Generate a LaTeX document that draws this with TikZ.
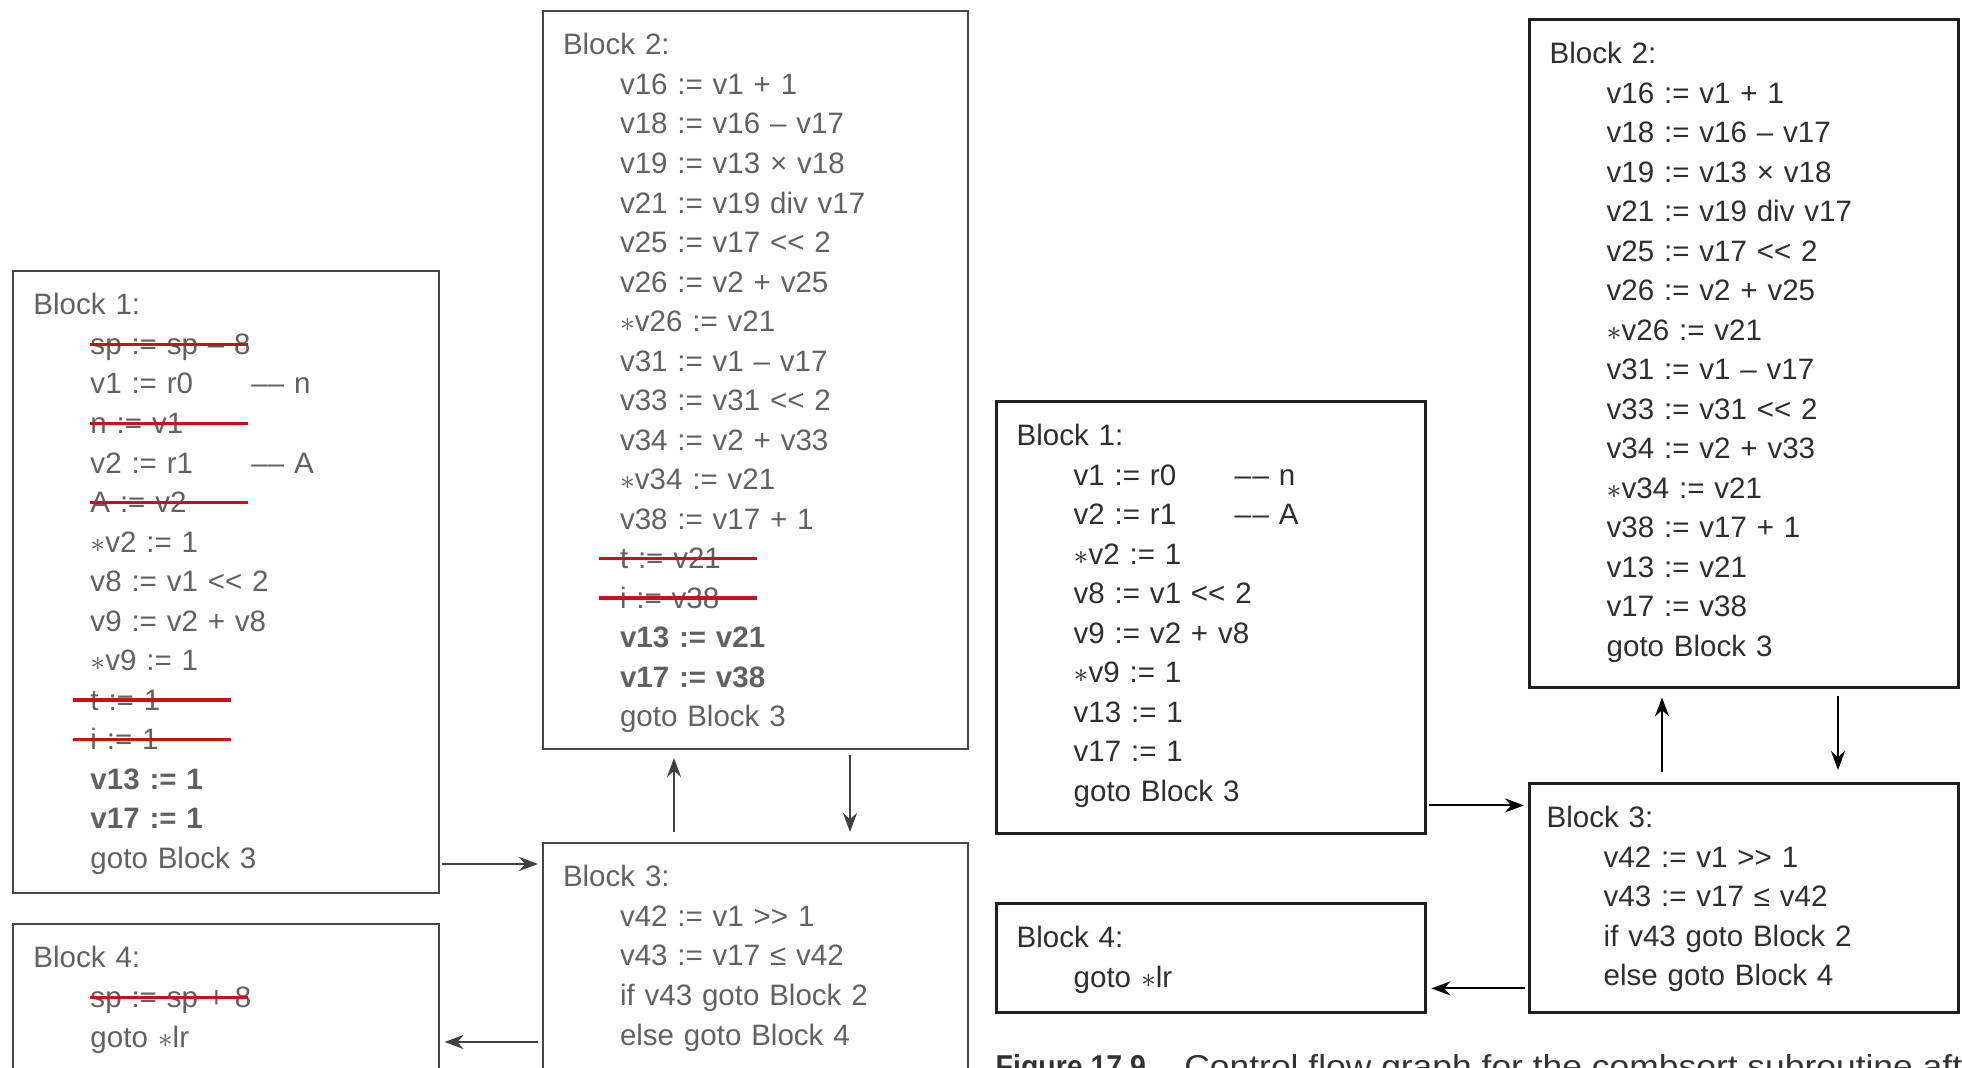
\documentclass[tikz,border=0pt]{standalone}
\usepackage{graphicx}
\usepackage{fontspec}
\setmainfont{Liberation Sans}
\usetikzlibrary{positioning,arrows.meta,calc}

\definecolor{strikered}{RGB}{200,16,24}
\newcommand{\codein}{\hspace*{5.7mm}}
\newcommand{\shl}{<\kern0pt<}
\newcommand{\shr}{>\kern0pt>}
\newcommand{\ptr}{$\ast$}
\newcommand{\withnote}[2]{\makebox[16.1mm][l]{#1}#2}
% red bar through a deleted instruction, optional shift to the left
\newcommand{\struckline}[2][0mm]{\makebox[0pt][l]{#2}\hspace*{-#1}\textcolor{strikered}{\rule[0.28em]{15.8mm}{0.35mm}}}

\begin{document}
\begin{tikzpicture}[font=\fontsize{8.4}{11.24}\selectfont]
  \tikzstyle{block}=[draw,anchor=north west,align=left,inner xsep=2mm,inner ysep=0pt,text height=4.4mm]
  \tikzstyle{scan}=[block,draw=black!72,line width=0.2mm,text=black!62,text width=3.85cm]
  \tikzstyle{crisp}=[block,draw=black!88,line width=0.34mm,text=black!82,text width=3.89cm]
  \tikzstyle{flow}=[-{Stealth[length=1.9mm,width=1.4mm]},line width=0.22mm]
  \tikzstyle{caption}=[inner sep=0pt,text=black!80]
  \useasboundingbox (0,0) rectangle (19.62,10.68);
  \clip (0,0) rectangle (19.62,10.68);

  % left: blocks with the copies still marked
  \node[scan,text depth=5.78cm] (L1) at (0.125,7.98) {Block 1:\\
    \codein\struckline{sp := sp – 8}\\
    \codein\withnote{v1 := r0}{–– n}\\
    \codein\struckline{n := v1}\\
    \codein\withnote{v2 := r1}{–– A}\\
    \codein\struckline{A := v2}\\
    \codein\ptr v2 := 1\\
    \codein v8 := v1 \shl\ 2\\
    \codein v9 := v2 + v8\\
    \codein\ptr v9 := 1\\
    \codein\struckline[1.75mm]{t := 1}\\
    \codein\struckline[1.75mm]{i := 1}\\
    \codein\textbf{v13 := 1}\\
    \codein\textbf{v17 := 1}\\
    \codein goto Block 3};
  \node[scan,text depth=6.94cm] (L2) at (5.42,10.58) {Block 2:\\
    \codein v16 := v1 + 1\\
    \codein v18 := v16 – v17\\
    \codein v19 := v13 × v18\\
    \codein v21 := v19 div v17\\
    \codein v25 := v17 \shl\ 2\\
    \codein v26 := v2 + v25\\
    \codein\ptr v26 := v21\\
    \codein v31 := v1 – v17\\
    \codein v33 := v31 \shl\ 2\\
    \codein v34 := v2 + v33\\
    \codein\ptr v34 := v21\\
    \codein v38 := v17 + 1\\
    \codein\struckline[2.1mm]{t := v21}\\
    \codein\struckline[2.1mm]{i := v38}\\
    \codein\textbf{v13 := v21}\\
    \codein\textbf{v17 := v38}\\
    \codein goto Block 3};
  \node[scan,text depth=2.6cm] (L3) at (5.42,2.26) {Block 3:\\
    \codein v42 := v1 \shr\ 1\\
    \codein v43 := v17 ≤ v42\\
    \codein if v43 goto Block 2\\
    \codein else goto Block 4};
  \node[scan,text depth=1.8cm] (L4) at (0.125,1.45) {Block 4:\\
    \codein\struckline{sp := sp + 8}\\
    \codein goto \ptr lr};

  \draw[flow,draw=black!75,shorten <=0.2mm,shorten >=0.4mm] ($(L1.south east)+(0,3mm)$) -- ($(L1.south east -| L3.west)+(0,3mm)$);
  \draw[flow,draw=black!75,shorten <=0.4mm,shorten >=0.5mm] ($(L4.north east -| L3.west)+(0,-11.9mm)$) -- ($(L4.north east)+(0,-11.9mm)$);
  \draw[flow,draw=black!75,shorten <=1mm,shorten >=0.8mm] ($(L3.north west)+(13.2mm,0)$) -- ($(L2.south west)+(13.2mm,0)$);
  \draw[flow,draw=black!75,shorten <=0.5mm,shorten >=1mm] ($(L2.south west)+(30.8mm,0)$) -- ($(L3.north west)+(30.8mm,0)$);

  % right: the same graph after the copies are gone
  \node[crisp,text depth=3.88cm] (R1) at (9.95,6.68) {Block 1:\\
    \codein\withnote{v1 := r0}{–\kern0.4pt– n}\\
    \codein\withnote{v2 := r1}{–\kern0.4pt– A}\\
    \codein\ptr v2 := 1\\
    \codein v8 := v1 \shl\ 2\\
    \codein v9 := v2 + v8\\
    \codein\ptr v9 := 1\\
    \codein v13 := 1\\
    \codein v17 := 1\\
    \codein goto Block 3};
  \node[crisp,text depth=6.24cm] (R2) at (15.28,10.50) {Block 2:\\
    \codein v16 := v1 + 1\\
    \codein v18 := v16 – v17\\
    \codein v19 := v13 × v18\\
    \codein v21 := v19 div v17\\
    \codein v25 := v17 \shl\ 2\\
    \codein v26 := v2 + v25\\
    \codein\ptr v26 := v21\\
    \codein v31 := v1 – v17\\
    \codein v33 := v31 \shl\ 2\\
    \codein v34 := v2 + v33\\
    \codein\ptr v34 := v21\\
    \codein v38 := v17 + 1\\
    \codein v13 := v21\\
    \codein v17 := v38\\
    \codein goto Block 3};
  \node[crisp,text depth=1.85cm,inner xsep=1.7mm,text width=3.95cm] (R3) at (15.28,2.86) {Block 3:\\
    \codein v42 := v1 \shr\ 1\\
    \codein v43 := v17 ≤ v42\\
    \codein if v43 goto Block 2\\
    \codein else goto Block 4};
  \node[crisp,text depth=0.65cm] (R4) at (9.95,1.66) {Block 4:\\
    \codein goto \ptr lr};

  \draw[flow,shorten <=0.2mm,shorten >=0.4mm] ($(R1.south east)+(0,3mm)$) -- ($(R1.south east -| R3.west)+(0,3mm)$);
  \draw[flow,shorten <=0.3mm,shorten >=0.4mm] ($(R4.south east -| R3.west)+(0,2.6mm)$) -- ($(R4.south east)+(0,2.6mm)$);
  \draw[flow,shorten <=1mm,shorten >=0.8mm] ($(R3.north west)+(13.4mm,0)$) -- ($(R2.south west)+(13.4mm,0)$);
  \draw[flow,shorten <=0.7mm,shorten >=1.2mm] ($(R2.south west)+(31mm,0)$) -- ($(R3.north west)+(31mm,0)$);

  \node[caption,font=\fontsize{9}{11}\selectfont\bfseries,anchor=base west] (fig) at (9.95,-0.1) {\scalebox{0.9}[1]{Figure 17.9}};
  \node[caption,font=\fontsize{9}{11}\selectfont,base right=3.7mm of fig] (captext) {\scalebox{1.12}[1]{Control flow graph for the combsort subroutine after}};
\end{tikzpicture}
\end{document}
